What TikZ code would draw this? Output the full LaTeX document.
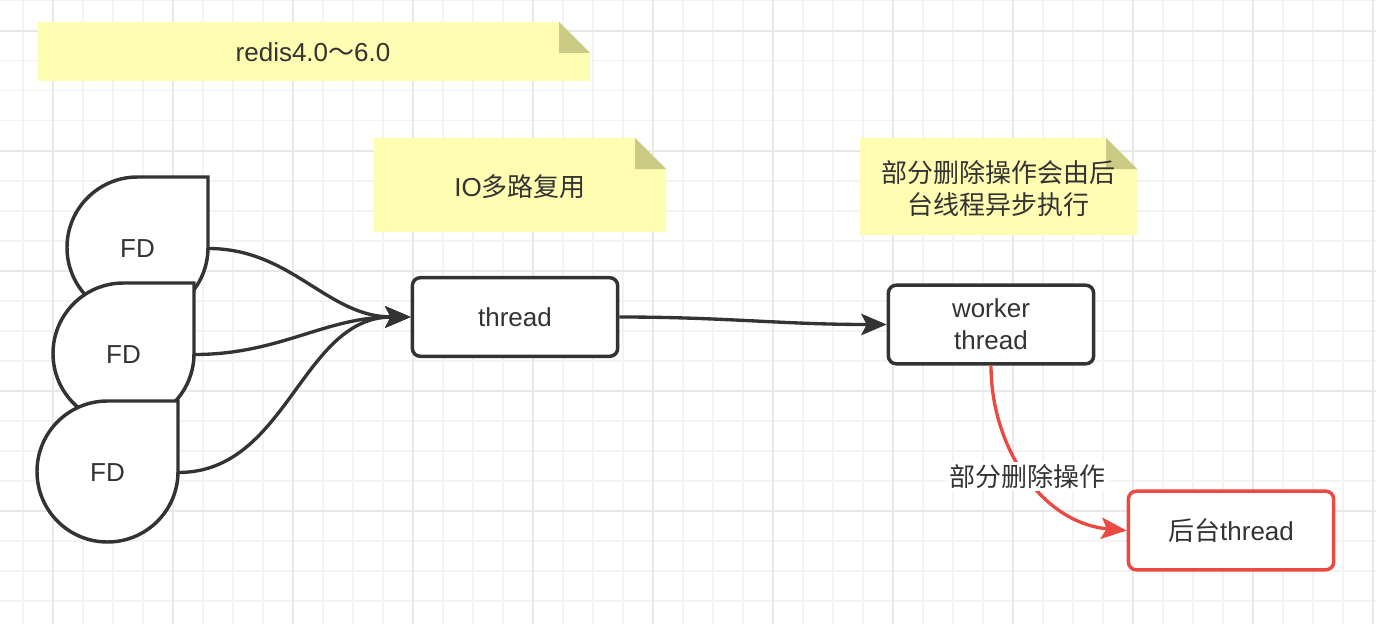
\documentclass[tikz,border=0pt]{standalone}
\usepackage{fontspec}
\setmainfont{Liberation Sans}
\newfontfamily\cjk{Noto Sans CJK SC}
\usetikzlibrary{arrows.meta}
\definecolor{ink}{HTML}{333333}
\definecolor{notebg}{HTML}{FFFDB1}
\definecolor{notefold}{HTML}{CCCB86}
\definecolor{alert}{HTML}{EA4A42}
\definecolor{gridminor}{HTML}{F3F3F3}
\definecolor{gridmajor}{HTML}{E8E8E8}
\tikzset{
	every node/.style={font=\fontsize{19.5pt}{24pt}\selectfont, text=ink},
	zh/.style={font=\fontsize{19.5pt}{24pt}\selectfont\cjk},
	minorline/.style={draw=gridminor, line width=1.2pt},
	majorline/.style={draw=gridmajor, line width=1.5pt},
	fdline/.style={draw=ink, fill=white, line width=2.6pt},
	fd/.style={minimum width=105.75pt, minimum height=105.75pt, inner sep=0pt},
	box/.style={draw=ink, fill=white, line width=2.6pt, rounded corners=6pt, minimum width=154pt, minimum height=59pt, align=center},
	link/.style={color=ink, line width=2.5pt, -{Stealth[length=19pt, width=16pt, inset=4pt]}},
	redlink/.style={link, color=alert},
}
\newcommand{\notepaper}[4]{%
	\fill[notebg] (#1,#2) -- (#3-31,#2) -- (#3,#2+31) -- (#3,#4) -- (#1,#4) -- cycle;
	\fill[notefold] (#3-31,#2) -- (#3-31,#2+31) -- (#3,#2+31) -- cycle;}
\newcommand{\fdpaper}[2]{%
	\filldraw[fdline] (#1,#2-70.5) -- (#1+70.5,#2-70.5) -- (#1+70.5,#2) arc[start angle=0, end angle=270, radius=70.5] -- cycle;}

\begin{document}
\begin{tikzpicture}[x=0.75pt, y=-0.75pt]
		\useasboundingbox[fill=white] (0,0) rectangle (1376,624);
		\foreach \i in {0,...,45} \draw[minorline] (22.7+30*\i,0) -- ++(0,624);
		\foreach \i in {0,...,20} \draw[minorline] (0,0.7+30*\i) -- ++(1376,0);
		\foreach \i in {0,...,11} \draw[majorline] (52.7+120*\i,0) -- ++(0,624);
		\foreach \i in {0,...,4} \draw[majorline] (0,30.7+120*\i) -- ++(1376,0);

		\notepaper{38}{22}{590}{81}
		\notepaper{374}{138}{666}{232}
		\notepaper{860}{138}{1137}{235}
		\node (ver) at (313,52) {redis4.0{\cjk ～}6.0};
		\node (mux) at (520,187) {IO{\cjk 多路复用}};
		\node[zh, align=center] (async) at (998,189) {部分删除操作会由后\\台线程异步执行};

		\fdpaper{137.5}{247.5}
		\fdpaper{123.5}{353.5}
		\fdpaper{107.5}{471.5}
		\node[fd] (fd1) at (137.5,248.5) {FD};
		\node[fd] (fd2) at (123.5,354.5) {FD};
		\node[fd] (fd3) at (107.5,472.5) {FD};

		\node[box] (thread) at (515,317) {thread};
		\node[box] (worker) at (991,324.5) {worker\\thread};
		\node[box, draw=alert] (backend) at (1231,530.5) {{\cjk 后台}thread};

		\draw[link] (fd1.east) to[out=0, in=180] (thread.west);
		\draw[link] (fd2.east) to[out=0, in=180] (thread.west);
		\draw[link] (fd3.east) to[out=0, in=180] (thread.west);
		\draw[link] (thread.east) to[out=0, in=180] (worker.west);
		\draw[redlink] (worker.south) to[out=-90, in=175] node[zh, fill=white, inner sep=2pt, text=ink] {部分删除操作} (backend.west);
	\end{tikzpicture}
\end{document}
